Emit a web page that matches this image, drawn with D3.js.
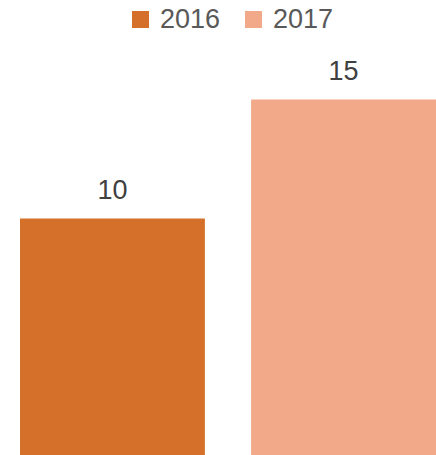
<!DOCTYPE html>
<html>
<head>
<meta charset="utf-8">
<script src="https://cdn.jsdelivr.net/npm/d3@7"></script>
<style>
  html, body { margin: 0; padding: 0; background: #fff; }
  svg { display: block; }
</style>
</head>
<body>
<svg id="chart" width="436" height="455"></svg>
<script>
const categories = ["2016", "2017"];
const values = [10, 15];
const colors = ["#D4702A", "#F2A98A"];

const svg = d3.select("#chart");
const font = "'Liberation Sans', Arial, sans-serif";

const x = d3.scaleBand().domain(categories).range([20, 436]).paddingInner(0.2).paddingOuter(0);
const y = d3.scaleLinear().domain([0, 15]).range([456.5, 99.5]);

svg.selectAll("rect.bar").data(categories).enter().append("rect")
  .attr("class", "bar")
  .attr("x", d => x(d))
  .attr("width", x.bandwidth())
  .attr("y", (d, i) => y(values[i]))
  .attr("height", (d, i) => y(0) - y(values[i]))
  .attr("fill", (d, i) => colors[i]);

svg.selectAll("text.val").data(categories).enter().append("text")
  .attr("class", "val")
  .attr("x", d => x(d) + x.bandwidth() / 2)
  .attr("y", (d, i) => y(values[i]) - 20)
  .attr("text-anchor", "middle")
  .attr("font-family", font)
  .attr("font-size", 27)
  .attr("fill", "#404040")
  .text((d, i) => values[i]);

// legend
const legendX = [132, 245];
const lg = svg.selectAll("g.leg").data(categories).enter().append("g")
  .attr("class", "leg")
  .attr("transform", (d, i) => `translate(${legendX[i]},0)`);
lg.append("rect").attr("x", 0).attr("y", 11).attr("width", 17).attr("height", 17)
  .attr("fill", (d, i) => colors[i]);
lg.append("text").attr("x", 28).attr("y", 28)
  .attr("font-family", font).attr("font-size", 27).attr("fill", "#595959")
  .text(d => d);
</script>
</body>
</html>
